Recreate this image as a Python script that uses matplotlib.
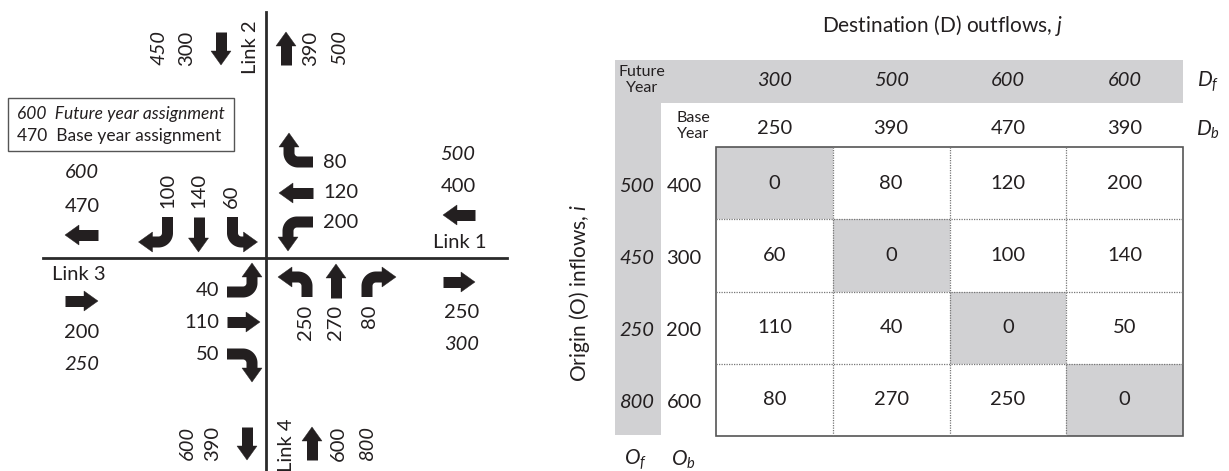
import numpy as np
import matplotlib.pyplot as plt
from matplotlib.patches import Rectangle, Polygon

plt.rcParams['font.family'] = ['Lato', 'DejaVu Sans']
plt.rcParams['mathtext.fontset'] = 'custom'
plt.rcParams['mathtext.rm'] = 'Lato'
plt.rcParams['mathtext.it'] = 'Lato:italic'

# links: 1 = east, 2 = north, 3 = west, 4 = south
links = ["Link 1", "Link 2", "Link 3", "Link 4"]
origin_base = [400, 300, 200, 600]
origin_future = [500, 450, 250, 800]
dest_base = [250, 390, 470, 390]
dest_future = [300, 500, 600, 600]
# base year turning movements, row = from link, column = to link
od_base = [[0, 80, 120, 200],
           [60, 0, 100, 140],
           [110, 40, 0, 50],
           [80, 270, 250, 0]]

INK = '#231f20'
GREY = '#d1d1d3'
FS = 14.5

fig = plt.figure(figsize=(12.29, 4.71), dpi=100)
ax = fig.add_axes([0, 0, 1, 1])
ax.set_xlim(0, 1229)
ax.set_ylim(471, 0)
ax.axis('off')


def block_arrow(x0, y0, d1, L1, d2=None, r=9, L2=0, head_len=14, head_w=20, shaft=11):
    """Thick arrow: straight part, optional quarter turn, then a triangular head."""
    d1 = np.array(d1, float)
    p = np.array([x0, y0], float) + L1 * d1
    pts = [np.array([x0, y0], float), p]
    d = d1
    if d2 is not None:
        d2 = np.array(d2, float)
        c = p + r * d2
        t = np.linspace(0, np.pi / 2, 24)
        arc = c - r * np.outer(np.cos(t), d2) + r * np.outer(np.sin(t), d1)
        pts.extend(arc[1:])
        p = arc[-1] + L2 * d2
        pts.append(p)
        d = d2
    pts.append(p + 1.0 * d)
    pts = np.array(pts)
    ax.plot(pts[:, 0], pts[:, 1], color=INK, lw=shaft * 0.72,
            solid_capstyle='butt', solid_joinstyle='round')
    n = np.array([-d[1], d[0]])
    head = [p + n * head_w / 2, p + head_len * d, p - n * head_w / 2]
    ax.add_patch(Polygon(head, closed=True, facecolor=INK, edgecolor=INK, lw=0.3))


def straight(x_tail, y_tail, x_tip, y_tip):
    v = np.array([x_tip - x_tail, y_tip - y_tail], float)
    L = np.hypot(*v)
    block_arrow(x_tail, y_tail, v / L, L - 14)


def label(x, y, s, italic=False, rot=0, ha='center', va='center', fs=FS, **kw):
    ax.text(x, y, s, fontsize=fs, color=INK, ha=ha, va=va, rotation=rot,
            style='italic' if italic else 'normal', **kw)


# ---- intersection ----
ax.plot([43, 507], [258, 258], color='#2a2a2a', lw=2)
ax.plot([266, 266], [12, 471], color='#2a2a2a', lw=2)

E, N, W, S = (1, 0), (0, -1), (-1, 0), (0, 1)

# from link 1 (east), westbound
block_arrow(313, 162, W, 15, N, L2=6)
block_arrow(313, 193, W, 20)
block_arrow(313, 222, W, 16, S, L2=6)
for y, j in zip([162, 193, 223], [1, 2, 3]):
    label(323, y, str(od_base[0][j]), ha='left')

# from link 2 (north), southbound
block_arrow(167.5, 217, S, 16, W, L2=6)
block_arrow(198.5, 217, S, 21)
block_arrow(232.5, 217, S, 16, E, L2=2)
for x, j in zip([167.5, 198.5, 231], [2, 3, 0]):
    label(x, 208, str(od_base[1][j]), rot=90, va='bottom')

# from link 3 (west), eastbound
block_arrow(227, 292, E, 16, N, L2=6)
block_arrow(227, 322, E, 19)
block_arrow(227, 354, E, 16, S, L2=5)
for y, j in zip([291, 322, 354], [1, 0, 3]):
    label(219, y, str(od_base[2][j]), ha='right')

# from link 4 (south), northbound
block_arrow(307, 297, N, 11, W, L2=6)
block_arrow(336, 298, N, 20)
block_arrow(367, 297, N, 11, E, L2=6)
for x, j in zip([305, 335, 369], [2, 1, 0]):
    label(x, 305, str(od_base[3][j]), rot=90, va='top')

# link arrows and totals
straight(221, 32, 221, 65)
straight(286, 65, 286, 32)
label(159, 48, str(origin_future[1]), italic=True, rot=90)
label(187, 48, str(origin_base[1]), rot=90)
label(250, 47, links[1], rot=90)
label(311, 48, str(dest_base[1]), rot=90)
label(340, 48, str(dest_future[1]), italic=True, rot=90)

straight(475, 215, 443, 215)
straight(443, 282, 475, 282)
label(458, 154, str(origin_future[0]), italic=True)
label(458, 187, str(origin_base[0]))
label(460, 243, links[0])
label(462, 313, str(dest_base[0]))
label(462, 345, str(dest_future[0]), italic=True)

straight(98, 235, 65, 235)
straight(65, 301, 98, 301)
label(82, 173, str(dest_future[2]), italic=True)
label(82, 207, str(dest_base[2]))
label(79, 275, links[2])
label(82, 332, str(origin_base[2]))
label(82, 365, str(origin_future[2]), italic=True)

straight(247, 427, 247, 460)
straight(312, 460, 312, 427)
label(187, 443, str(dest_future[3]), italic=True, rot=90)
label(213, 443, str(dest_base[3]), rot=90)
label(287, 445, links[3], rot=90)
label(338, 443, str(origin_base[3]), rot=90)
label(367, 443, str(origin_future[3]), italic=True, rot=90)

# legend box
ax.add_patch(Rectangle((8, 98), 226, 53, facecolor='white', edgecolor='#555555', lw=1))
label(17, 114, "600  Future year assignment", italic=True, ha='left', fs=12.5)
label(17, 136, "470  Base year assignment", ha='left', fs=12.5)

# ---- OD matrix ----
x0, y0, cw, rh = 716, 147, 116.75, 72.25
n = len(od_base)
col_c = x0 + cw * (np.arange(n) + 0.5)
row_c = y0 + rh * (np.arange(n) + 0.5)

ax.add_patch(Rectangle((615, 60), x0 + n * cw - 615, 43, facecolor=GREY, lw=0))
ax.add_patch(Rectangle((615, 60), 46, 375, facecolor=GREY, lw=0))
for i in range(n):
    for j in range(n):
        if i == j:
            ax.add_patch(Rectangle((x0 + j * cw, y0 + i * rh), cw, rh, facecolor=GREY, lw=0))
        label(col_c[j], row_c[i], str(od_base[i][j]))
for k in range(1, n):
    ax.plot([x0 + k * cw] * 2, [y0, y0 + n * rh], color='#777777', lw=0.9, ls=(0, (1, 1)))
    ax.plot([x0, x0 + n * cw], [y0 + k * rh] * 2, color='#777777', lw=0.9, ls=(0, (1, 1)))
ax.add_patch(Rectangle((x0, y0), n * cw, n * rh, fill=False, edgecolor='#555555', lw=1.2))

for j in range(n):
    label(col_c[j], 80, str(dest_future[j]), italic=True)
    label(col_c[j], 128, str(dest_base[j]))
for i in range(n):
    label(637, row_c[i] + 3, str(origin_future[i]), italic=True)
    label(684, row_c[i] + 3, str(origin_base[i]))

label(642, 80, "Future\nYear", fs=11.5, linespacing=1.25)
label(693, 126, "Base\nYear", fs=11.5, linespacing=1.25)
label(1208, 82, "$D_f$", fs=15)
label(1208, 130, "$D_b$", fs=15)
label(635, 460, "$O_f$", fs=15)
label(683, 460, "$O_b$", fs=15)
label(943, 25, "Destination (D) outflows, $j$", fs=15)
label(580, 293, "Origin (O) inflows, $i$", rot=90, fs=15)

fig.savefig('out.png', dpi=100)
